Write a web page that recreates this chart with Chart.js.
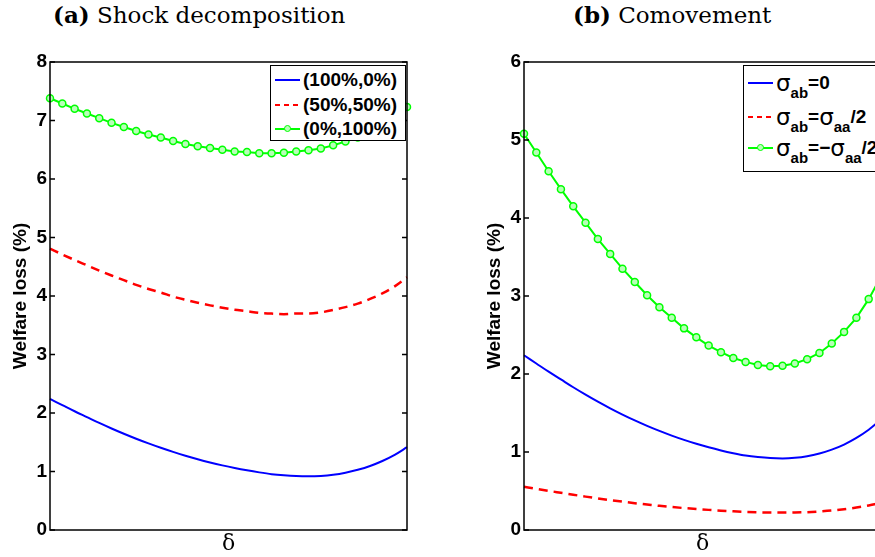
<!DOCTYPE html>
<html>
<head>
<meta charset="utf-8">
<script src="https://cdn.jsdelivr.net/npm/chart.js@4.4.0/dist/chart.umd.min.js"></script>
<style>
html, body { margin: 0; padding: 0; background: #fff; }
body { width: 875px; height: 557px; overflow: hidden; position: relative; }
.panel { position: absolute; top: 0; height: 557px; }
.cap { position: absolute; top: 3px; font-family: 'DejaVu Serif', serif; font-size: 23px; line-height: 23px; white-space: nowrap; color: #000; }
.cap b { font-weight: bold; }
.legend { position: absolute; box-sizing: border-box; background: #fff; border: 1px solid #000; font-family: 'Liberation Sans', Arial, sans-serif; font-weight: bold; color: #000; }
.row { position: absolute; left: 4px; height: 24px; display: flex; align-items: center; white-space: nowrap; }
.sample { position: relative; width: 25px; height: 2px; margin-right: 3px; flex: none; }
.s-blue { background: #0000ff; }
.s-red { background: repeating-linear-gradient(90deg, #ff0000 0 5px, transparent 5px 9px); }
.s-green { background: #00ff00; }
.s-green::after { content: ''; position: absolute; left: 9px; top: -3px; width: 5px; height: 5px; border: 1.5px solid #00ff00; border-radius: 50%; background: #b8ffb8; }
.sig { font-weight: normal; font-family: 'DejaVu Sans', sans-serif; font-size: 23px; }
.sub { font-size: 15px; position: relative; top: 9px; }
</style>
</head>
<body>

<div class="cap" style="left:53px"><b>(a)</b> Shock decomposition</div>
<div class="cap" style="left:573px"><b>(b)</b> Comovement</div>

<div class="panel" style="left:0; width:440px;"><canvas id="shockChart" width="440" height="557"></canvas></div>
<div class="panel" style="left:474px; width:420px;"><canvas id="comoveChart" width="420" height="557"></canvas></div>

<div class="legend" style="left:270px; top:65px; width:136px; height:76px; font-size:19px;">
  <div class="row" style="top:2px"><span class="sample s-blue"></span>(100%,0%)</div>
  <div class="row" style="top:27px"><span class="sample s-red"></span>(50%,50%)</div>
  <div class="row" style="top:51px"><span class="sample s-green"></span>(0%,100%)</div>
</div>

<div class="legend" style="left:743px; top:65px; width:200px; height:107px; font-size:19px;">
  <div class="row" style="top:5px"><span class="sample s-blue"></span><span class="sig">σ</span><span class="sub">ab</span>=0</div>
  <div class="row" style="top:39px"><span class="sample s-red"></span><span class="sig">σ</span><span class="sub">ab</span>=<span class="sig">σ</span><span class="sub">aa</span>/2</div>
  <div class="row" style="top:70px"><span class="sample s-green"></span><span class="sig">σ</span><span class="sub">ab</span>=−<span class="sig">σ</span><span class="sub">aa</span>/2</div>
</div>

<script>
// delta grid points (x axis has no tick labels)
const deltaGrid = [0,1,2,3,4,5,6,7,8,9,10,11,12,13,14,15,16,17,18,19,20,21,22,23,24,25,26,27,28,29];

// panel (a): shock decomposition
const shock100_0 = [2.24,2.135,2.03,1.93,1.83,1.735,1.645,1.56,1.48,1.405,1.335,1.27,1.21,1.155,1.105,1.06,1.02,0.985,0.955,0.935,0.922,0.918,0.925,0.945,0.98,1.03,1.095,1.18,1.285,1.415];
const shock50_50 = [4.81,4.71,4.615,4.525,4.435,4.35,4.27,4.19,4.12,4.06,3.99,3.935,3.885,3.84,3.80,3.765,3.74,3.71,3.70,3.69,3.70,3.70,3.72,3.76,3.81,3.87,3.95,4.045,4.165,4.32];
const shock0_100 = [7.38,7.29,7.20,7.12,7.04,6.96,6.89,6.82,6.76,6.71,6.65,6.60,6.56,6.53,6.50,6.47,6.46,6.44,6.44,6.45,6.47,6.49,6.52,6.575,6.64,6.71,6.80,6.91,7.05,7.23];

// panel (b): comovement
const comoveZero = [2.24,2.135,2.03,1.93,1.83,1.735,1.645,1.56,1.48,1.405,1.335,1.27,1.21,1.155,1.105,1.06,1.02,0.985,0.955,0.935,0.922,0.918,0.925,0.945,0.98,1.03,1.095,1.18,1.285,1.415];
const comovePos = [0.555,0.528,0.502,0.477,0.452,0.428,0.405,0.383,0.363,0.344,0.327,0.31,0.295,0.281,0.269,0.258,0.248,0.239,0.232,0.227,0.224,0.223,0.224,0.229,0.238,0.25,0.267,0.288,0.315,0.347];
const comoveNeg = [5.08,4.84,4.60,4.37,4.15,3.94,3.73,3.54,3.35,3.18,3.01,2.855,2.72,2.585,2.47,2.365,2.28,2.205,2.155,2.115,2.10,2.105,2.135,2.19,2.27,2.39,2.54,2.72,2.96,3.25];

const yTicksA = [0,1,2,3,4,5,6,7,8];
const yTicksB = [0,1,2,3,4,5,6];

// axes box + inward ticks like the original figure
const boxPlugin = {
    id: 'boxPlugin',
    afterDatasetsDraw(chart){
        const a = chart.chartArea;
        const ctx = chart.ctx;
        const y = chart.scales.y;
        ctx.save();
        ctx.strokeStyle = '#000';
        ctx.lineWidth = 1.5;
        ctx.beginPath();
        y.ticks.forEach(t => {
            const py = y.getPixelForValue(t.value);
            ctx.moveTo(a.left, py); ctx.lineTo(a.left + 5, py);
            ctx.moveTo(a.right, py); ctx.lineTo(a.right - 5, py);
        });
        ctx.stroke();
        ctx.strokeRect(a.left, a.top, a.right - a.left, a.bottom - a.top);
        ctx.restore();
    }
};

function makeChart(id, series, yMax, yTicks){
    const styles = [
        {borderColor:'#0000ff', borderWidth:2, pointRadius:0, cubicInterpolationMode:'monotone'},
        {borderColor:'#ff0000', borderWidth:2.5, borderDash:[9,6], pointRadius:0, cubicInterpolationMode:'monotone'},
        {borderColor:'#00ff00', borderWidth:2, pointRadius:3.5, pointBorderWidth:1.5,
         pointBackgroundColor:'#b8ffb8', pointBorderColor:'#00ff00', clip:false}
    ];
    return new Chart(document.getElementById(id), {
        type:'line',
        data:{
            labels: deltaGrid,
            datasets: series.map((s,i) => Object.assign({data:s, tension:0, fill:false}, styles[i]))
        },
        options:{
            responsive:false,
            animation:false,
            layout:{ padding:{ top:62, right: id === 'shockChart' ? 33 : 13, bottom:0, left:0 } },
            plugins:{ legend:{display:false}, tooltip:{enabled:false} },
            scales:{
                x:{
                    grid:{display:false, drawTicks:false},
                    border:{display:false},
                    ticks:{display:false},
                    title:{display:true, text:'δ', color:'#000', padding:{top:0,bottom:0},
                           font:{family:'DejaVu Serif', size:22}},
                    afterFit(scale){ scale.height = 27; }
                },
                y:{
                    min:0, max:yMax,
                    afterBuildTicks(scale){ scale.ticks = yTicks.map(v => ({value:v})); },
                    grid:{display:false, drawTicks:false},
                    border:{display:false},
                    ticks:{color:'#000', padding:3, font:{family:'Liberation Sans', weight:'bold', size:19}},
                    title:{display:true, text:'Welfare loss (%)', color:'#000', padding:{top:9,bottom:0},
                           font:{family:'Liberation Sans', weight:'bold', size:19}},
                    afterFit(scale){ scale.width = 50; }
                }
            }
        },
        plugins:[boxPlugin]
    });
}

makeChart('shockChart', [shock100_0, shock50_50, shock0_100], 8, yTicksA);
makeChart('comoveChart', [comoveZero, comovePos, comoveNeg], 6, yTicksB);
</script>
</body>
</html>
